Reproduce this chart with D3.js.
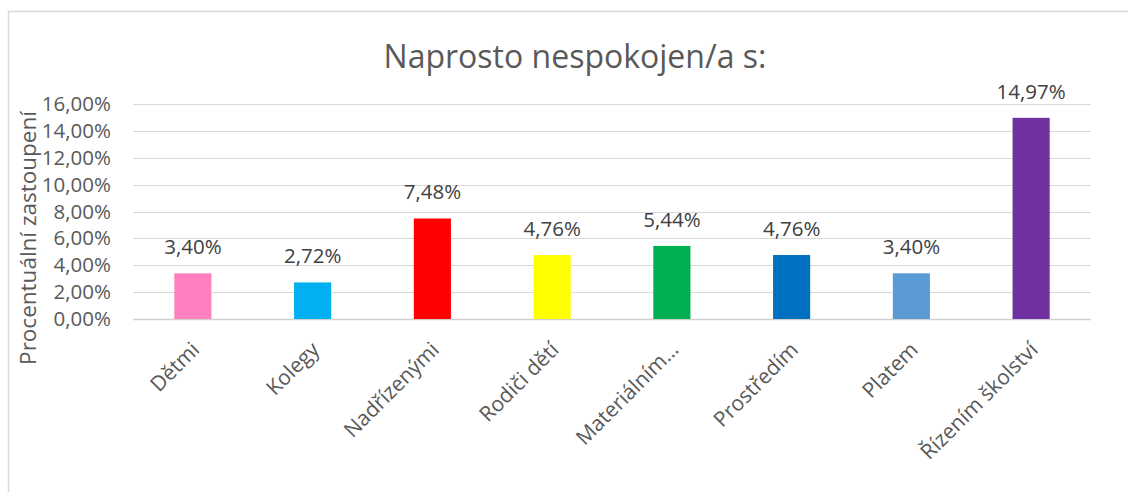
<!DOCTYPE html>
<html>
<head>
<meta charset="utf-8">
<script src="https://cdn.jsdelivr.net/npm/d3@7"></script>
<style>
  body { margin: 0; background: #fff; }
  text { font-family: "Open Sans", "Noto Sans", sans-serif; }
</style>
</head>
<body>
<svg width="1128" height="492"></svg>
<script>
// data
var categories = ['Dětmi', 'Kolegy', 'Nadřízenými', 'Rodiči dětí', 'Materiálním…', 'Prostředím', 'Platem', 'Řízením školství'];
var values = [3.40, 2.72, 7.48, 4.76, 5.44, 4.76, 3.40, 14.97];
var colors = ['#ff7fbf', '#00b0f0', '#ff0000', '#ffff00', '#00b050', '#0070c0', '#5b9bd5', '#7030a0'];
var yTicks = [0, 2, 4, 6, 8, 10, 12, 14, 16];

var svg = d3.select('svg');
var plot = {l: 133, r: 1091, t: 104, b: 319};

var fmt = function(v) { return d3.format('.2f')(v).replace('.', ',') + '%'; };

// chart frame
svg.append('path')
    .attr('d', 'M8.5,492 V11.5 H1128')
    .attr('fill', 'none')
    .attr('stroke', '#d9d9d9')
    .attr('stroke-width', 1.5);

svg.append('text')
    .attr('x', 575)
    .attr('y', 68)
    .attr('text-anchor', 'middle')
    .attr('font-size', 32)
    .attr('fill', '#595959')
    .text('Naprosto nespokojen/a s:');

var x = d3.scaleBand()
    .domain(categories)
    .range([plot.l, plot.r])
    .paddingInner(0.69)
    .paddingOuter(0.345);

var y = d3.scaleLinear()
    .domain([0, 16])
    .range([plot.b, plot.t]);

// gridlines
svg.append('g')
    .selectAll('line')
    .data(yTicks)
    .enter()
    .append('line')
    .attr('x1', plot.l)
    .attr('x2', plot.r)
    .attr('y1', function(d) { return Math.round(y(d)) + 0.5; })
    .attr('y2', function(d) { return Math.round(y(d)) + 0.5; })
    .attr('stroke', function(d) { return d === 0 ? '#d0d0d0' : '#d9d9d9'; })
    .attr('stroke-width', function(d) { return d === 0 ? 1.5 : 1; });

var yAxis = d3.axisLeft(y)
    .tickValues(yTicks)
    .tickSize(0)
    .tickPadding(0)
    .tickFormat(fmt);

svg.append('g')
    .attr('transform', 'translate(111,0)')
    .call(yAxis)
    .call(function(g) {
        g.select('.domain').remove();
        g.selectAll('text')
            .attr('font-size', 20.5)
            .attr('fill', '#595959')
            .attr('font-family', '"Open Sans", sans-serif');
    });

svg.append('text')
    .attr('transform', 'translate(36,238) rotate(-90)')
    .attr('text-anchor', 'middle')
    .attr('font-size', 22.5)
    .attr('fill', '#595959')
    .text('Procentuální zastoupení');

// bars
svg.append('g')
    .selectAll('rect')
    .data(values)
    .enter()
    .append('rect')
    .attr('x', function(d, i) { return x(categories[i]); })
    .attr('width', x.bandwidth())
    .attr('y', function(d) { return y(d); })
    .attr('height', function(d) { return y(0) - y(d); })
    .attr('fill', function(d, i) { return colors[i]; });

// data labels
svg.append('g')
    .selectAll('text')
    .data(values)
    .enter()
    .append('text')
    .attr('x', function(d, i) { return x(categories[i]) + x.bandwidth() / 2; })
    .attr('y', function(d) { return y(d) - 19; })
    .attr('text-anchor', 'middle')
    .attr('font-size', 20.5)
    .attr('fill', '#404040')
    .text(fmt);

// category labels
svg.append('g')
    .selectAll('text')
    .data(categories)
    .enter()
    .append('text')
    .attr('transform', function(d) {
        return 'translate(' + (x(d) + x.bandwidth() / 2 + 8) + ',' + (plot.b + 32) + ') rotate(-45)';
    })
    .attr('text-anchor', 'end')
    .attr('font-size', 21)
    .attr('fill', '#595959')
    .text(function(d) { return d; });
</script>
</body>
</html>
